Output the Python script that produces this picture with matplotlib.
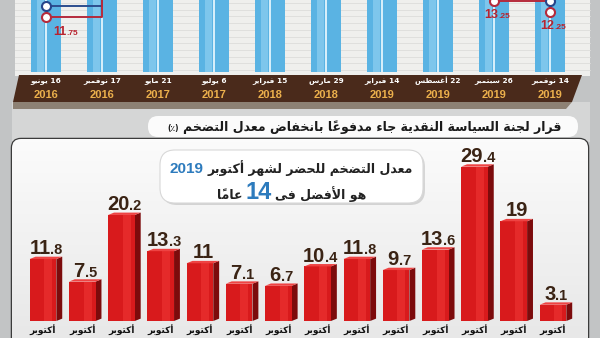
import matplotlib
matplotlib.use('Agg')
import matplotlib.pyplot as plt
from matplotlib import font_manager
from matplotlib.colors import LinearSegmentedColormap
from matplotlib.patches import FancyBboxPatch, Polygon, Rectangle
import numpy as np

# top chart: dates of the policy-rate decisions and the corridor rates
dates = ['16 يونيو', '17 نوفمبر', '21 مايو', '6 يوليو', '15 فبراير',
         '29 مارس', '14 فبراير', '22 أغسطس', '26 سبتمبر', '14 نوفمبر']
years = ['2016', '2016', '2017', '2017', '2018', '2018', '2019', '2019', '2019', '2019']
deposit_rate = [11.75, 14.75, 16.75, 18.75, 17.75, 16.75, 15.75, 14.25, 13.25, 12.25]
lending_rate = [12.75, 15.75, 17.75, 19.75, 18.75, 17.75, 16.75, 15.25, 14.25, 13.25]

# bottom chart: urban inflation in October of each year (%)
inflation = [11.8, 7.5, 20.2, 13.3, 11, 7.1, 6.7, 10.4, 11.8, 9.7, 13.6, 29.4, 19, 3.1]
month_label = 'أكتوبر'

title = 'قرار لجنة السياسة النقدية جاء مدفوعاً بانخفاض معدل التضخم'
title_unit = '(٪)'
note_line1 = 'معدل التضخم للحضر لشهر أكتوبر'
note_year = '2019'
note_line2 = 'هو الأفضل فى'
note_years = '14'
note_tail = 'عاماً'


# --- minimal Arabic shaping (presentation forms B), then visual order ---
_FORMS = {}
for ch, base, n in [('ء', 0xFE80, 1), ('آ', 0xFE81, 2), ('أ', 0xFE83, 2), ('ؤ', 0xFE85, 2),
                    ('إ', 0xFE87, 2), ('ئ', 0xFE89, 4), ('ا', 0xFE8D, 2), ('ب', 0xFE8F, 4),
                    ('ة', 0xFE93, 2), ('ت', 0xFE95, 4), ('ث', 0xFE99, 4), ('ج', 0xFE9D, 4),
                    ('ح', 0xFEA1, 4), ('خ', 0xFEA5, 4), ('د', 0xFEA9, 2), ('ذ', 0xFEAB, 2),
                    ('ر', 0xFEAD, 2), ('ز', 0xFEAF, 2), ('س', 0xFEB1, 4), ('ش', 0xFEB5, 4),
                    ('ص', 0xFEB9, 4), ('ض', 0xFEBD, 4), ('ط', 0xFEC1, 4), ('ظ', 0xFEC5, 4),
                    ('ع', 0xFEC9, 4), ('غ', 0xFECD, 4), ('ف', 0xFED1, 4), ('ق', 0xFED5, 4),
                    ('ك', 0xFED9, 4), ('ل', 0xFEDD, 4), ('م', 0xFEE1, 4), ('ن', 0xFEE5, 4),
                    ('ه', 0xFEE9, 4), ('و', 0xFEED, 2), ('ى', 0xFEEF, 2), ('ي', 0xFEF1, 4)]:
    _FORMS[ch] = (base, n)
_LAM_ALEF = {'آ': 0xFEF5, 'أ': 0xFEF7, 'إ': 0xFEF9, 'ا': 0xFEFB}
_MARKS = set('\u064b\u064c\u064d\u064e\u064f\u0650\u0651\u0652')


def shape_word(word):
    units = []
    i = 0
    while i < len(word):
        c = word[i]
        if c in _MARKS and units:
            units[-1][2] += c
        elif c == 'ل' and i + 1 < len(word) and word[i + 1] in _LAM_ALEF:
            units.append([_LAM_ALEF[word[i + 1]], 2, ''])
            i += 1
        else:
            base, n = _FORMS[c]
            units.append([base, n, ''])
        i += 1
    out = []
    for k, (base, n, marks) in enumerate(units):
        prev = k > 0 and units[k - 1][1] == 4
        nxt = n == 4 and k + 1 < len(units)
        if n == 4:
            off = 3 if (prev and nxt) else 1 if prev else 2 if nxt else 0
        elif n == 2:
            off = 1 if prev else 0
        else:
            off = 0
        out.append(chr(base + off) + marks)
    return ''.join(reversed(out))


def ar(text):
    words = text.split(' ')
    return ' '.join(shape_word(w) if any(c in _FORMS for c in w) else w
                    for w in reversed(words))


names = {f.name for f in font_manager.fontManager.ttflist}
NUM_FONT = 'Liberation Sans Narrow' if 'Liberation Sans Narrow' in names else 'Liberation Sans'
AR_FONT = 'DejaVu Sans'

W, H = 600, 338
fig = plt.figure(figsize=(W / 100, H / 100), dpi=100)
fig.patch.set_facecolor('#c4c6c7')

# pixel-space layers behind and in front of the charts
bg = fig.add_axes([0, 0, 1, 1], zorder=0)
fg = fig.add_axes([0, 0, 1, 1], zorder=2)
for a in (bg, fg):
    a.set_xlim(0, W)
    a.set_ylim(H, 0)
    a.axis('off')
    a.patch.set_alpha(0)

renderer = fig.canvas.get_renderer()


def draw_runs(ax, x, y, runs, align='center', gap=0):
    texts = [ax.text(0, y, s, va='baseline', ha='left', **kw) for s, kw in runs]
    widths = [t.get_window_extent(renderer).width for t in texts]
    total = sum(widths) + gap * (len(texts) - 1)
    start = {'center': x - total / 2, 'right': x - total, 'left': x}[align]
    for t, w in zip(texts, widths):
        t.set_x(start)
        start += w + gap
    return texts


# backgrounds
bg.add_patch(Rectangle((0, 0), W, H, fc='#c2c4c5', zorder=0))
bg.add_patch(Rectangle((15, 0), 575, 76, fc='#efefed', zorder=1))
for y in np.arange(3, 75, 6.7):
    bg.plot([15, 590], [y, y], color='#dcdcda', lw=0.6, zorder=1.1)
bg.add_patch(Rectangle((12, 102), 578, 40, fc='#d5d6d6', zorder=1))
bg.add_patch(Polygon([(13, 102), (572, 102), (566, 109), (13, 109)], fc='#8d8174', zorder=2))
bg.add_patch(Polygon([(19, 75), (582, 75), (572, 102), (13, 102)], fc='#4a2a1b', zorder=3))

# title ribbon
bg.add_patch(FancyBboxPatch((148, 116), 430, 21, boxstyle='round,pad=0,rounding_size=10',
                            fc='#fbfbfb', ec='none', zorder=2))
draw_runs(bg, 561, 131.5,
          [(title_unit, dict(fontsize=5.5, fontweight='bold', family=AR_FONT, color='#1a1a1a')),
           (ar(title), dict(fontsize=9, fontweight='bold', family=AR_FONT, color='#1a1a1a'))],
          align='right', gap=4)

# lower panel
panel = FancyBboxPatch((12, 139), 576, 240, boxstyle='round,pad=0,rounding_size=9',
                       fc='#f0f0f0', ec='#3b3b3b', lw=1.8, zorder=4)
bg.add_patch(panel)
grad = np.linspace(0, 1, 64).reshape(-1, 1)
cm = LinearSegmentedColormap.from_list('panel', ['#fbfbfb', '#e8e8e8'])
im = bg.imshow(grad, extent=(12, 588, 338, 139), cmap=cm, aspect='auto', zorder=4.1)
im.set_clip_path(panel)

# ---- top chart: rates over the decision dates ----
top = fig.add_axes([18 / W, 1 - 72 / H, 560 / W, 72 / H], zorder=1)
top.set_xlim(-0.5, len(dates) - 0.5)
top.set_ylim(6.75, 13.3)
top.axis('off')
top.patch.set_alpha(0)
xs = np.arange(len(dates))
lo, hi = top.get_ylim()
top.bar(xs, hi - lo, bottom=lo, width=0.54, color='#5ab3e3', zorder=1)
top.bar(xs - 0.1, hi - lo, bottom=lo, width=0.12, color='#7ec6ec', zorder=1.1)
top.bar(xs, hi - lo, bottom=lo, width=0.05, color='#d6eefa', zorder=1.2)
top.step(xs, lending_rate, where='post', color='#2c4d8e', lw=1.4, zorder=3)
top.step(xs, deposit_rate, where='post', color='#b52a3c', lw=1.4, zorder=3)
top.plot(xs, lending_rate, 'o', ms=6.5, mfc='white', mec='#27458a', mew=1.5, zorder=4)
top.plot(xs, deposit_rate, 'o', ms=6.5, mfc='white', mec='#b52a3c', mew=1.5, zorder=4)

for i, (x, v) in enumerate(zip(xs, deposit_rate)):
    if v > hi:
        continue
    px, py = top.transData.transform((x, v))
    py = H - py
    whole, frac = f'{v:.2f}'.split('.')
    draw_runs(fg, px + (20 if i == 0 else 3), py + 17.5,
              [(whole, dict(fontsize=9, fontweight='bold', family='Liberation Sans', color='#b8232f')),
               ('.' + frac, dict(fontsize=6, fontweight='bold', family='Liberation Sans', color='#b8232f'))])

for x, d, yr in zip(xs, dates, years):
    px = top.transData.transform((x, 0))[0]
    bg.text(px, 81, ar(d), ha='center', va='center', fontsize=5.3, fontweight='bold',
            family=AR_FONT, color='white', zorder=5)
    bg.text(px, 95.5, yr, ha='center', va='center', fontsize=8, fontweight='bold',
            family='Liberation Sans', color='#ecb04c', zorder=5)

# ---- bottom chart: October inflation ----
base_px, top_px = 321, 140
bot = fig.add_axes([23.4 / W, (H - base_px) / H, 549.2 / W, (base_px - top_px) / H], zorder=1)
bot.set_xlim(-0.5, len(inflation) - 0.5)
bot.set_ylim(0, (base_px - top_px) / 5.25)
bot.axis('off')
bot.patch.set_alpha(0)
bx = np.arange(len(inflation))
bars = bot.bar(bx, inflation, width=0.68, color='#d81a1c', zorder=2)
dx, dy = 0.15, 0.45
for b in bars:
    x0, w, h = b.get_x(), b.get_width(), b.get_height()
    x1 = x0 + w
    bot.add_patch(Polygon([(x1, 0), (x1 + dx, dy), (x1 + dx, h + dy), (x1, h)],
                          fc='#7c0b0c', zorder=1.9))
    bot.add_patch(Polygon([(x0, h), (x1, h), (x1 + dx, h + dy), (x0 + dx, h + dy)],
                          fc='#ee4343', zorder=2.1))
    bot.add_patch(Rectangle((x0 + w * 0.55, 0), w * 0.3, h, fc='#e52a2a', lw=0, zorder=2.05))

for x, v in zip(bx, inflation):
    px, py = bot.transData.transform((x + dx / 2, v + dy))
    py = H - py
    whole, _, frac = f'{v:g}'.partition('.')
    runs = [(whole, dict(fontsize=14.5, fontweight='bold', family=NUM_FONT, color='#3a2314'))]
    if frac:
        runs.append(('.' + frac, dict(fontsize=10.5, fontweight='bold', family=NUM_FONT,
                                      color='#3a2314')))
    draw_runs(fg, px, py - 2.5, runs)
    cx = bot.transData.transform((x, 0))[0]
    fg.text(cx, 330, ar(month_label), ha='center', va='center', fontsize=6.5,
            fontweight='bold', family=AR_FONT, color='#111111')

# callout box
fg.add_patch(FancyBboxPatch((162, 152), 263, 53, boxstyle='round,pad=0,rounding_size=15',
                            fc='#00000022', ec='none', zorder=1))
fg.add_patch(FancyBboxPatch((160, 150), 263, 53, boxstyle='round,pad=0,rounding_size=15',
                            fc='white', ec='#d8d8d8', lw=0.8, zorder=2))
dark = dict(fontsize=9, fontweight='bold', family=AR_FONT, color='#222222', zorder=3)
draw_runs(fg, 291, 173,
          [(note_year, dict(fontsize=11, fontweight='bold', family='Liberation Sans',
                            color='#2d7bbd', zorder=3)),
           (ar(note_line1), dark)], gap=4)
draw_runs(fg, 292, 199,
          [(ar(note_tail), dark),
           (note_years, dict(fontsize=17, fontweight='bold', family=NUM_FONT,
                             color='#2d7bbd', zorder=3)),
           (ar(note_line2), dark)], gap=3)

fig.savefig('out.png', dpi=100)
